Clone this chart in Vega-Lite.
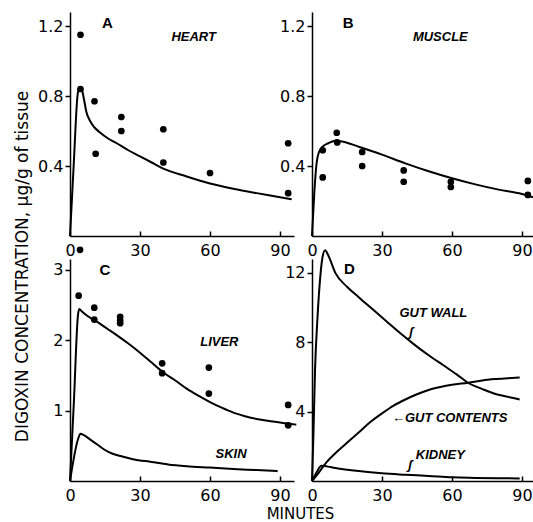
{
  "$schema": "https://vega.github.io/schema/vega-lite/v6.json",
  "padding": {"left": 13, "top": 12, "right": 0, "bottom": 0},
  "background": "white",
  "title": {"text": "DIGOXIN CONCENTRATION, μg/g of tissue", "orient": "left", "anchor": "middle", "font": "DejaVu Sans", "fontSize": 17, "fontWeight": "normal", "color": "black", "offset": 6},
  "config": {
    "view": {"stroke": null},
    "axis": {"grid": false, "domainColor": "black", "domainWidth": 1.5, "tickColor": "black", "tickWidth": 1.5, "labelColor": "black", "labelFont": "DejaVu Sans", "labelFontSize": 16, "labelFlush": false, "labelOverlap": false},
    "axisX": {"tickSize": -5, "labelPadding": 11},
    "axisY": {"tickSize": 5, "labelPadding": 2}
  },
  "datasets": {
    "heart_curve": [
      {"t": 0, "v": 0}, {"t": 1.6, "v": 0.41}, {"t": 3.2, "v": 0.8}, {"t": 4, "v": 0.85}, {"t": 5, "v": 0.84}, {"t": 6, "v": 0.78}, {"t": 7, "v": 0.71}, {"t": 8.5, "v": 0.66}, {"t": 10.5, "v": 0.62}, {"t": 13, "v": 0.59}, {"t": 16, "v": 0.56}, {"t": 20, "v": 0.53}, {"t": 25, "v": 0.49}, {"t": 30, "v": 0.455}, {"t": 35, "v": 0.42}, {"t": 40, "v": 0.385}, {"t": 50, "v": 0.34}, {"t": 60, "v": 0.3}, {"t": 70, "v": 0.27}, {"t": 80, "v": 0.245}, {"t": 90, "v": 0.222}, {"t": 95, "v": 0.21}
    ],
    "heart_obs": [
      {"t": 4.5, "v": 1.15}, {"t": 4.5, "v": 0.84}, {"t": 10.5, "v": 0.77}, {"t": 11, "v": 0.47}, {"t": 22, "v": 0.68}, {"t": 22, "v": 0.6}, {"t": 40, "v": 0.61}, {"t": 40, "v": 0.42}, {"t": 60, "v": 0.36}, {"t": 93.5, "v": 0.53}, {"t": 93.5, "v": 0.245}
    ],
    "muscle_curve": [
      {"t": 0, "v": 0}, {"t": 1, "v": 0.25}, {"t": 2, "v": 0.42}, {"t": 3, "v": 0.48}, {"t": 4.5, "v": 0.51}, {"t": 7, "v": 0.53}, {"t": 10, "v": 0.545}, {"t": 13, "v": 0.54}, {"t": 20, "v": 0.51}, {"t": 30, "v": 0.465}, {"t": 40, "v": 0.415}, {"t": 50, "v": 0.37}, {"t": 60, "v": 0.33}, {"t": 70, "v": 0.295}, {"t": 80, "v": 0.265}, {"t": 90, "v": 0.24}, {"t": 95, "v": 0.22}
    ],
    "muscle_obs": [
      {"t": 4.6, "v": 0.335}, {"t": 4.6, "v": 0.49}, {"t": 10.6, "v": 0.59}, {"t": 10.8, "v": 0.535}, {"t": 21.5, "v": 0.48}, {"t": 21.5, "v": 0.4}, {"t": 39.3, "v": 0.375}, {"t": 39.3, "v": 0.31}, {"t": 59.5, "v": 0.31}, {"t": 59.5, "v": 0.28}, {"t": 92.5, "v": 0.315}, {"t": 92.5, "v": 0.235}
    ],
    "c_curves": [
      {"s": "liver", "t": 0, "v": 0}, {"s": "liver", "t": 1.7, "v": 1.15}, {"s": "liver", "t": 3.4, "v": 2.35}, {"s": "liver", "t": 4, "v": 2.44}, {"s": "liver", "t": 5, "v": 2.41}, {"s": "liver", "t": 8, "v": 2.33}, {"s": "liver", "t": 12, "v": 2.25}, {"s": "liver", "t": 16, "v": 2.16}, {"s": "liver", "t": 20, "v": 2.07}, {"s": "liver", "t": 25, "v": 1.95}, {"s": "liver", "t": 30, "v": 1.82}, {"s": "liver", "t": 35, "v": 1.68}, {"s": "liver", "t": 40, "v": 1.54}, {"s": "liver", "t": 45, "v": 1.43}, {"s": "liver", "t": 50, "v": 1.31}, {"s": "liver", "t": 55, "v": 1.21}, {"s": "liver", "t": 60, "v": 1.12}, {"s": "liver", "t": 65, "v": 1.04}, {"s": "liver", "t": 70, "v": 0.97}, {"s": "liver", "t": 75, "v": 0.92}, {"s": "liver", "t": 80, "v": 0.88}, {"s": "liver", "t": 87, "v": 0.845}, {"s": "liver", "t": 92, "v": 0.82}, {"s": "liver", "t": 97, "v": 0.8},
      {"s": "skin", "t": 0, "v": 0}, {"s": "skin", "t": 3.5, "v": 0.6}, {"s": "skin", "t": 4.5, "v": 0.67}, {"s": "skin", "t": 6, "v": 0.65}, {"s": "skin", "t": 9, "v": 0.58}, {"s": "skin", "t": 12, "v": 0.51}, {"s": "skin", "t": 15, "v": 0.44}, {"s": "skin", "t": 18, "v": 0.39}, {"s": "skin", "t": 22, "v": 0.35}, {"s": "skin", "t": 27, "v": 0.31}, {"s": "skin", "t": 35, "v": 0.27}, {"s": "skin", "t": 42, "v": 0.235}, {"s": "skin", "t": 50, "v": 0.21}, {"s": "skin", "t": 60, "v": 0.19}, {"s": "skin", "t": 70, "v": 0.17}, {"s": "skin", "t": 80, "v": 0.155}, {"s": "skin", "t": 89, "v": 0.14}
    ],
    "liver_obs": [
      {"t": 4.3, "v": 3.28}, {"t": 3.7, "v": 2.63}, {"t": 10.4, "v": 2.46}, {"t": 10.4, "v": 2.29}, {"t": 21.5, "v": 2.33}, {"t": 21.5, "v": 2.28}, {"t": 21.5, "v": 2.24}, {"t": 39.5, "v": 1.67}, {"t": 39.5, "v": 1.53}, {"t": 59.5, "v": 1.61}, {"t": 59.5, "v": 1.24}, {"t": 93.5, "v": 1.08}, {"t": 93.5, "v": 0.79}
    ],
    "d_curves": [
      {"s": "gut wall", "t": 0, "v": 0}, {"s": "gut wall", "t": 0.6, "v": 2.6}, {"s": "gut wall", "t": 1.3, "v": 6.4}, {"s": "gut wall", "t": 2.3, "v": 9.3}, {"s": "gut wall", "t": 3.5, "v": 11.7}, {"s": "gut wall", "t": 4.5, "v": 12.9}, {"s": "gut wall", "t": 5.6, "v": 13.3}, {"s": "gut wall", "t": 7, "v": 13.0}, {"s": "gut wall", "t": 10, "v": 12.0}, {"s": "gut wall", "t": 15, "v": 11.2}, {"s": "gut wall", "t": 20, "v": 10.6}, {"s": "gut wall", "t": 26, "v": 9.9}, {"s": "gut wall", "t": 32, "v": 9.2}, {"s": "gut wall", "t": 38, "v": 8.5}, {"s": "gut wall", "t": 44, "v": 7.85}, {"s": "gut wall", "t": 50, "v": 7.25}, {"s": "gut wall", "t": 56, "v": 6.7}, {"s": "gut wall", "t": 62, "v": 6.15}, {"s": "gut wall", "t": 67, "v": 5.65}, {"s": "gut wall", "t": 73, "v": 5.3}, {"s": "gut wall", "t": 79, "v": 5.0}, {"s": "gut wall", "t": 84, "v": 4.85}, {"s": "gut wall", "t": 89, "v": 4.7},
      {"s": "gut contents", "t": 0, "v": 0}, {"s": "gut contents", "t": 3, "v": 0.5}, {"s": "gut contents", "t": 6, "v": 1.05}, {"s": "gut contents", "t": 10, "v": 1.6}, {"s": "gut contents", "t": 15, "v": 2.2}, {"s": "gut contents", "t": 20, "v": 2.8}, {"s": "gut contents", "t": 25, "v": 3.4}, {"s": "gut contents", "t": 30, "v": 3.9}, {"s": "gut contents", "t": 35, "v": 4.35}, {"s": "gut contents", "t": 40, "v": 4.7}, {"s": "gut contents", "t": 45, "v": 5.0}, {"s": "gut contents", "t": 50, "v": 5.25}, {"s": "gut contents", "t": 55, "v": 5.42}, {"s": "gut contents", "t": 60, "v": 5.55}, {"s": "gut contents", "t": 67, "v": 5.67}, {"s": "gut contents", "t": 73, "v": 5.8}, {"s": "gut contents", "t": 79, "v": 5.88}, {"s": "gut contents", "t": 84, "v": 5.93}, {"s": "gut contents", "t": 89, "v": 5.97},
      {"s": "kidney", "t": 0, "v": 0}, {"s": "kidney", "t": 2, "v": 0.5}, {"s": "kidney", "t": 4, "v": 0.88}, {"s": "kidney", "t": 6, "v": 0.85}, {"s": "kidney", "t": 10, "v": 0.75}, {"s": "kidney", "t": 20, "v": 0.57}, {"s": "kidney", "t": 30, "v": 0.44}, {"s": "kidney", "t": 40, "v": 0.36}, {"s": "kidney", "t": 50, "v": 0.29}, {"s": "kidney", "t": 60, "v": 0.21}, {"s": "kidney", "t": 70, "v": 0.18}, {"s": "kidney", "t": 80, "v": 0.16}, {"s": "kidney", "t": 89, "v": 0.15}
    ],
    "labels": [
      {"panel": "A", "kind": "letter", "t": 16, "v": 1.22, "text": "A"},
      {"panel": "A", "kind": "tissue", "t": 53, "v": 1.14, "text": "HEART"},
      {"panel": "B", "kind": "letter", "t": 15.5, "v": 1.22, "text": "B"},
      {"panel": "B", "kind": "tissue", "t": 55, "v": 1.14, "text": "MUSCLE"},
      {"panel": "C", "kind": "letter", "t": 15, "v": 3.0, "text": "C"},
      {"panel": "C", "kind": "tissue", "t": 64, "v": 1.97, "text": "LIVER"},
      {"panel": "C", "kind": "tissue", "t": 69, "v": 0.38, "text": "SKIN"},
      {"panel": "D", "kind": "letter", "t": 16, "v": 12.2, "text": "D"},
      {"panel": "D", "kind": "tissue", "t": 52, "v": 9.66, "text": "GUT WALL"},
      {"panel": "D", "kind": "tissue", "t": 42.5, "v": 8.6, "text": "ʃ"},
      {"panel": "D", "kind": "tissue", "t": 59, "v": 3.62, "text": "←GUT CONTENTS"},
      {"panel": "D", "kind": "tissue", "t": 55, "v": 1.52, "text": "KIDNEY"},
      {"panel": "D", "kind": "tissue", "t": 42, "v": 0.95, "text": "ʃ"}
    ]
  },
  "columns": 2,
  "bounds": "flush",
  "spacing": {"row": 23, "column": 18},
  "concat": [
    {
      "width": 224, "height": 224,
      "encoding": {
        "x": {"field": "t", "type": "quantitative", "scale": {"domain": [0, 96], "nice": false}, "axis": {"title": null, "values": [0, 30, 60, 90]}},
        "y": {"field": "v", "type": "quantitative", "scale": {"domain": [0, 1.28], "nice": false}, "axis": {"title": null, "values": [0.4, 0.8, 1.2], "format": ".1f"}}
      },
      "layer": [
        {"data": {"name": "heart_curve"}, "mark": {"type": "line", "color": "black", "strokeWidth": 2, "interpolate": "monotone"}},
        {"data": {"name": "heart_obs"}, "mark": {"type": "circle", "color": "black", "size": 45, "opacity": 1}},
        {"data": {"name": "labels"}, "transform": [{"filter": "datum.panel === 'A' && datum.kind === 'letter'"}], "mark": {"type": "text", "font": "Liberation Sans", "fontWeight": "bold", "fontSize": 15, "color": "black"}, "encoding": {"text": {"field": "text"}}},
        {"data": {"name": "labels"}, "transform": [{"filter": "datum.panel === 'A' && datum.kind === 'tissue'"}], "mark": {"type": "text", "font": "Liberation Sans", "fontWeight": "bold", "fontStyle": "italic", "fontSize": 13, "color": "black"}, "encoding": {"text": {"field": "text"}}}
      ]
    },
    {
      "width": 224, "height": 224,
      "encoding": {
        "x": {"field": "t", "type": "quantitative", "scale": {"domain": [0, 96], "nice": false}, "axis": {"title": null, "values": [0, 30, 60, 90]}},
        "y": {"field": "v", "type": "quantitative", "scale": {"domain": [0, 1.28], "nice": false}, "axis": {"title": null, "values": [0.4, 0.8, 1.2], "format": ".1f"}}
      },
      "layer": [
        {"data": {"name": "muscle_curve"}, "mark": {"type": "line", "color": "black", "strokeWidth": 2, "interpolate": "monotone"}},
        {"data": {"name": "muscle_obs"}, "mark": {"type": "circle", "color": "black", "size": 45, "opacity": 1}},
        {"data": {"name": "labels"}, "transform": [{"filter": "datum.panel === 'B' && datum.kind === 'letter'"}], "mark": {"type": "text", "font": "Liberation Sans", "fontWeight": "bold", "fontSize": 15, "color": "black"}, "encoding": {"text": {"field": "text"}}},
        {"data": {"name": "labels"}, "transform": [{"filter": "datum.panel === 'B' && datum.kind === 'tissue'"}], "mark": {"type": "text", "font": "Liberation Sans", "fontWeight": "bold", "fontStyle": "italic", "fontSize": 13, "color": "black"}, "encoding": {"text": {"field": "text"}}}
      ]
    },
    {
      "width": 224, "height": 222,
      "encoding": {
        "x": {"field": "t", "type": "quantitative", "scale": {"domain": [0, 96], "nice": false}, "axis": {"title": "MINUTES", "values": [0, 30, 60, 90], "titleX": 230, "titlePadding": 3, "titleFont": "DejaVu Sans", "titleFontSize": 15, "titleFontWeight": "normal", "titleColor": "black"}},
        "y": {"field": "v", "type": "quantitative", "scale": {"domain": [0, 3.15], "nice": false}, "axis": {"title": null, "values": [1, 2, 3], "format": "d"}}
      },
      "layer": [
        {"data": {"name": "c_curves"}, "mark": {"type": "line", "color": "black", "strokeWidth": 2, "interpolate": "monotone"}, "encoding": {"detail": {"field": "s"}}},
        {"data": {"name": "liver_obs"}, "mark": {"type": "circle", "color": "black", "size": 45, "opacity": 1}},
        {"data": {"name": "labels"}, "transform": [{"filter": "datum.panel === 'C' && datum.kind === 'letter'"}], "mark": {"type": "text", "font": "Liberation Sans", "fontWeight": "bold", "fontSize": 15, "color": "black"}, "encoding": {"text": {"field": "text"}}},
        {"data": {"name": "labels"}, "transform": [{"filter": "datum.panel === 'C' && datum.kind === 'tissue'"}], "mark": {"type": "text", "font": "Liberation Sans", "fontWeight": "bold", "fontStyle": "italic", "fontSize": 13, "color": "black"}, "encoding": {"text": {"field": "text"}}}
      ]
    },
    {
      "width": 224, "height": 222,
      "encoding": {
        "x": {"field": "t", "type": "quantitative", "scale": {"domain": [0, 96], "nice": false}, "axis": {"title": null, "values": [0, 30, 60, 90]}},
        "y": {"field": "v", "type": "quantitative", "scale": {"domain": [0, 12.8], "nice": false}, "axis": {"title": null, "values": [4, 8, 12], "format": "d"}}
      },
      "layer": [
        {"data": {"name": "d_curves"}, "mark": {"type": "line", "color": "black", "strokeWidth": 2, "interpolate": "monotone"}, "encoding": {"detail": {"field": "s"}}},
        {"data": {"name": "labels"}, "transform": [{"filter": "datum.panel === 'D' && datum.kind === 'letter'"}], "mark": {"type": "text", "font": "Liberation Sans", "fontWeight": "bold", "fontSize": 15, "color": "black"}, "encoding": {"text": {"field": "text"}}},
        {"data": {"name": "labels"}, "transform": [{"filter": "datum.panel === 'D' && datum.kind === 'tissue'"}], "mark": {"type": "text", "font": "Liberation Sans", "fontWeight": "bold", "fontStyle": "italic", "fontSize": 13, "color": "black"}, "encoding": {"text": {"field": "text"}}}
      ]
    }
  ]
}
